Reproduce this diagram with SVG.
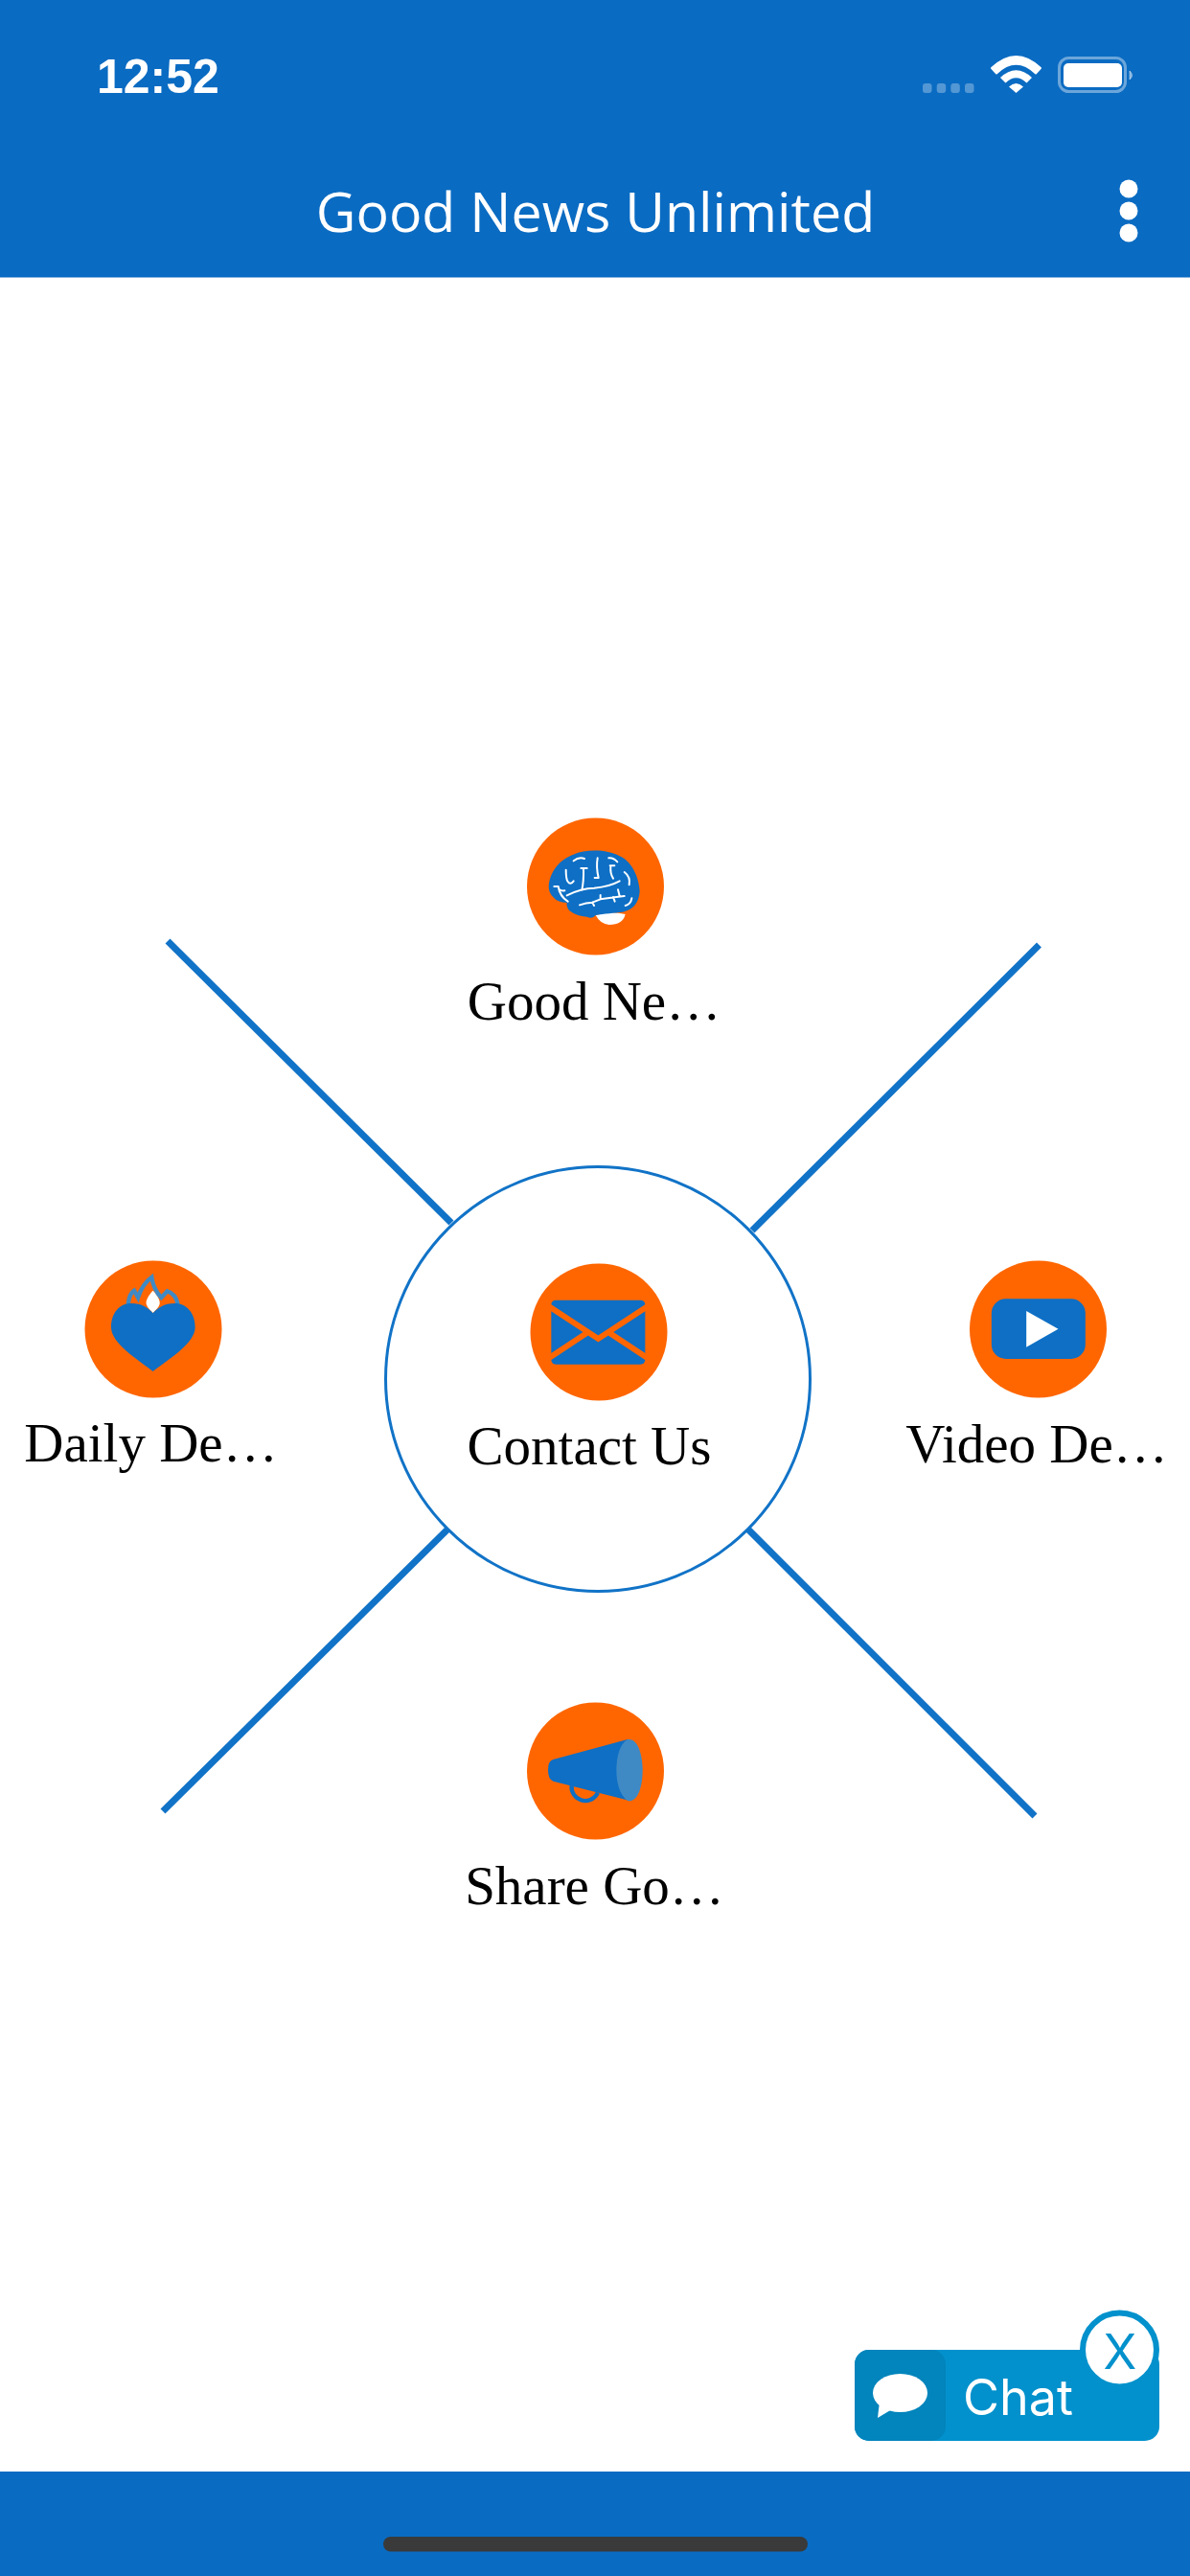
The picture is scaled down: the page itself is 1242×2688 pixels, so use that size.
<svg xmlns="http://www.w3.org/2000/svg" width="1242" height="2688" viewBox="0 0 1242 2688">
<style>
.bar{fill:#0a6bc2}
.disc{fill:#ff6600}
.ico{fill:#0e6fc5}
.lite{fill:#3f8ac5}
.lbl{font-family:"Liberation Serif","Times New Roman",serif;font-size:57px;fill:#000}
.wht{fill:#fff}
.conn{stroke:#1173c7;stroke-width:7;fill:none}
.vein{stroke:#fff;stroke-width:6;fill:none;stroke-linecap:round;stroke-linejoin:round}
.cut{stroke:#ff6600;stroke-width:18;fill:none}
</style>
<rect width="1242" height="2688" fill="#fff"/>
<g id="header">
<rect class="bar" width="1242" height="289.5"/>
<text x="101" y="97" font-family="'Liberation Sans',Arial,sans-serif" font-weight="700" font-size="50" class="wht">12:52</text>
<g id="signal" fill="#fff" fill-opacity=".3">
<rect x="963" y="87" width="9.5" height="10" rx="3"/><rect x="977.7" y="87" width="9.5" height="10" rx="3"/><rect x="992.3" y="87" width="9.5" height="10" rx="3"/><rect x="1007" y="87" width="9.5" height="10" rx="3"/>
</g>
<g id="wifi">
<path d="M1035 71Q1060.5 47 1086 71L1081 76.500Q1060.500 57 1040 76.500Z" class="wht" stroke="#fff" stroke-width="2" stroke-linejoin="round"/>
<path d="M1044 81Q1060.500 65.500 1077 81L1071.500 86.500Q1060.500 76 1049.500 86.500Z" class="wht"/>
<path d="M1053 90.500Q1060.500 83.500 1068 90.500L1060.500 97Z" class="wht"/>
</g>
<g id="battery">
<rect x="1105.500" y="60.500" width="69" height="35" rx="10" fill="none" stroke="#fff" stroke-opacity=".4" stroke-width="3"/>
<rect x="1110" y="66" width="61" height="25" rx="5" class="wht"/>
<path d="M1179 74Q1184 78.500 1179 83Z" fill="#fff" fill-opacity=".45" stroke="#fff" stroke-opacity=".45" stroke-width="1"/>
</g>
<text x="621.500" y="242" text-anchor="middle" font-family="'Open Sans',sans-serif" font-size="57.300" class="wht">Good News Unlimited</text>
<g id="kebab" class="wht"><circle cx="1178" cy="197" r="9.500"/><circle cx="1178" cy="220" r="9.500"/><circle cx="1178" cy="243" r="9.500"/></g>
</g>
<g id="connectors" class="conn">
<line x1="175" y1="982" x2="471" y2="1276"/>
<line x1="1084.500" y1="986" x2="785" y2="1284"/>
<line x1="170" y1="1890" x2="468" y2="1595"/>
<line x1="1080" y1="1895" x2="781" y2="1596"/>
</g>
<g id="hub"><circle cx="624" cy="1439" r="221.500" fill="#fff" stroke="#1173c7" stroke-width="3"/></g>
<g id="node-good-news">
<circle class="disc" cx="621.500" cy="925" r="71.500"/>
<g transform="translate(470 830) scale(.33333)">
<path class="wht" d="M455 375Q500 360 548 372Q540 405 497 405Q470 403 455 375Z"/>
<path class="ico" d="M308 285C312 235 345 200 385 185C425 168 490 168 530 190C565 205 590 250 593 300C590 340 570 358 540 365C515 368 480 370 455 375Q445 388 428 380Q395 378 372 360Q362 345 365 336Q335 335 322 318Q308 305 308 285Z"/>
<path class="vein" d="M386 205Q402 192 420 198M362 233Q362 262 368 270Q376 282 386 268M409 228H428M417 228Q418 270 412 296M461 196Q456 225 464 258L452 258M500 220H514M502 222Q500 245 510 260M496 196Q510 194 523 208M545 240Q565 255 560 280M325 285H338Q342 315 368 332M342 295Q348 300 358 298M365 313Q410 290 450 290Q500 285 530 268M405 343Q425 335 445 335L470 325L520 318L545 315M445 335L450 345M470 325L470 312M510 318L515 332M525 295L530 315M548 345Q565 340 568 322"/>
</g>
<text class="lbl" x="620" y="1064" text-anchor="middle">Good Ne…</text>
</g>
<g id="node-daily">
<circle class="disc" cx="160" cy="1387" r="71.500"/>
<g transform="translate(20 1290) scale(.33333)">
<path class="wht" d="M419 170C405 185 396 200 398 212C402 225 412 232 419 240C426 232 436 225 440 212C442 200 433 185 419 170Z"/>
<path d="M341 213Q345 180 360 170L372 192Q385 150 415 128Q420 165 445 192L464 172Q490 180 497 213" fill="none" stroke="#3f8ac5" stroke-width="13"/>
<path class="ico" d="M419 423C370 385 288 335 288 285C288 240 315 210 350 210C385 210 405 225 419 241C433 225 453 210 488 210C523 210 551 240 551 285C551 335 468 385 419 423Z"/>
</g>
<text class="lbl" x="157.500" y="1525" text-anchor="middle">Daily De…</text>
</g>
<g id="node-contact">
<circle class="disc" cx="625" cy="1390" r="71.500"/>
<g transform="translate(470 1290) scale(.33333)">
<rect class="ico" x="316" y="200" width="294" height="201" rx="14"/>
<path class="cut" d="M308 219L463 321L618 219M308 382L427 303M618 382L499 303"/>
</g>
<text class="lbl" x="615" y="1528" text-anchor="middle">Contact Us</text>
</g>
<g id="node-video">
<circle class="disc" cx="1083.500" cy="1387" r="71.500"/>
<g transform="translate(930.500 1290) scale(.33333)">
<rect class="ico" x="313" y="196" width="294" height="188" rx="45"/>
<path class="wht" d="M422 234L522 290L422 347Z"/>
</g>
<text class="lbl" x="1082" y="1526" text-anchor="middle">Video De…</text>
</g>
<g id="node-share">
<circle class="disc" cx="621.500" cy="1848" r="71.500"/>
<g transform="translate(470 1750) scale(.33333)">
<path d="M380 340C375 382 435 410 462 362" fill="none" stroke="#0e6fc5" stroke-width="13"/>
<path class="ico" d="M322 258L555 195L565 388L322 326Q306 320 306 292Q306 262 322 258Z"/>
<path class="lite" d="M555 195C590 190 602 250 602 292C602 335 590 395 555 387C530 370 520 330 520 292C520 250 530 210 555 195Z"/>
</g>
<text class="lbl" x="620.500" y="1987" text-anchor="middle">Share Go…</text>
</g>
<g id="chat">
<rect x="892" y="2452" width="318" height="95" rx="15" fill="#0291cc"/>
<path d="M907 2452H972A15 15 0 0 1 987 2467V2532A15 15 0 0 1 972 2547H907A15 15 0 0 1 892 2532V2467A15 15 0 0 1 907 2452Z" fill="#0284bc"/>
<ellipse cx="939.500" cy="2497" rx="28.500" ry="20" class="wht"/>
<path class="wht" d="M918 2506L916 2523L931 2514Z"/>
<text x="1005" y="2520" font-family="Inter,'Noto Sans',sans-serif" font-size="52" class="wht">Chat</text>
<circle cx="1168.500" cy="2452" r="38.500" fill="#fff" stroke="#0291cc" stroke-width="6"/>
<text x="1169" y="2472" text-anchor="middle" font-family="Inter,'Noto Sans',sans-serif" font-size="51" fill="#0291cc">X</text>
</g>
<g id="footer">
<rect class="bar" y="2579" width="1242" height="109"/>
<rect x="400" y="2647" width="443" height="15.500" rx="7.700" fill="#3a3a3a"/>
</g>
</svg>
